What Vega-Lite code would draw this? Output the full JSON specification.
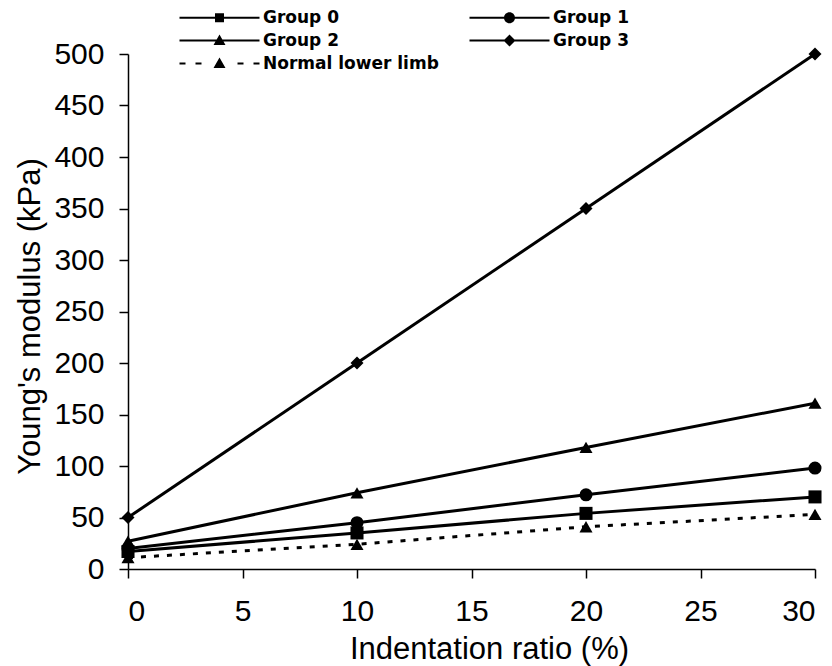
{
  "$schema": "https://vega.github.io/schema/vega-lite/v6.json",
  "width": 687,
  "height": 515,
  "autosize": {"type": "none"},
  "padding": {"left": 128, "top": 54, "right": 17, "bottom": 97},
  "background": "white",
  "config": {
    "view": {"stroke": null},
    "font": "Liberation Sans",
    "axis": {
      "domainColor": "black",
      "domainWidth": 1.5,
      "tickColor": "black",
      "tickWidth": 1.5,
      "tickSize": 9,
      "labelColor": "black",
      "labelFont": "Liberation Sans",
      "labelFontSize": 30,
      "titleColor": "black",
      "titleFont": "Liberation Sans",
      "titleFontSize": 31,
      "titleFontWeight": "normal",
      "grid": false
    }
  },
  "data": {
    "values": [
      {"x": 0, "y": 17, "series": "Group 0"},
      {"x": 10, "y": 35, "series": "Group 0"},
      {"x": 20, "y": 54, "series": "Group 0"},
      {"x": 30, "y": 70, "series": "Group 0"},
      {"x": 0, "y": 20, "series": "Group 1"},
      {"x": 10, "y": 45, "series": "Group 1"},
      {"x": 20, "y": 72, "series": "Group 1"},
      {"x": 30, "y": 98, "series": "Group 1"},
      {"x": 0, "y": 27, "series": "Group 2"},
      {"x": 10, "y": 74, "series": "Group 2"},
      {"x": 20, "y": 118, "series": "Group 2"},
      {"x": 30, "y": 161, "series": "Group 2"},
      {"x": 0, "y": 50, "series": "Group 3"},
      {"x": 10, "y": 200, "series": "Group 3"},
      {"x": 20, "y": 350, "series": "Group 3"},
      {"x": 30, "y": 500, "series": "Group 3"},
      {"x": 0, "y": 11, "series": "Normal lower limb"},
      {"x": 10, "y": 24, "series": "Normal lower limb"},
      {"x": 20, "y": 41, "series": "Normal lower limb"},
      {"x": 30, "y": 53, "series": "Normal lower limb"}
    ]
  },
  "encoding": {
    "x": {
      "field": "x",
      "type": "quantitative",
      "scale": {"domain": [0, 30], "nice": false},
      "axis": {
        "values": [0, 5, 10, 15, 20, 25, 30],
        "title": "Indentation ratio (%)",
        "labelPadding": 18,
        "titleX": 361,
        "titleY": 80,
        "titleAlign": "center",
        "titleBaseline": "middle"
      }
    },
    "y": {
      "field": "y",
      "type": "quantitative",
      "scale": {"domain": [0, 500], "nice": false},
      "axis": {
        "values": [0, 50, 100, 150, 200, 250, 300, 350, 400, 450, 500],
        "title": "Young's modulus (kPa)",
        "labelPadding": 15,
        "titleAngle": -90,
        "titleX": -98,
        "titleY": 262,
        "titleAlign": "center",
        "titleBaseline": "middle"
      }
    }
  },
  "resolve": {"scale": {"shape": "independent"}, "legend": {"shape": "independent"}},
  "layer": [
    {
      "transform": [{"filter": "datum.series !== 'Normal lower limb'"}],
      "mark": {"type": "line", "color": "black", "strokeWidth": 3},
      "encoding": {
        "detail": {"field": "series", "type": "nominal"}
      }
    },
    {
      "transform": [{"filter": "datum.series === 'Normal lower limb'"}],
      "mark": {"type": "line", "color": "black", "strokeWidth": 3, "strokeDash": [5, 8]},
      "encoding": {}
    },
    {
      "mark": {"type": "point", "filled": true, "color": "black", "opacity": 1, "size": 170},
      "encoding": {
        "shape": {
          "field": "series",
          "type": "nominal",
          "scale": {
            "domain": ["Group 0", "Group 1", "Group 2", "Group 3", "Normal lower limb"],
            "range": ["square", "circle", "triangle-up", "diamond", "triangle-up"]
          },
          "legend": null
        }
      }
    },
    {
      "transform": [{"filter": "datum.x < 0"}],
      "mark": {"type": "point", "filled": true, "color": "black", "opacity": 1, "size": 100},
      "encoding": {
        "shape": {
          "field": "series",
          "type": "nominal",
          "scale": {
            "domain": ["Group 0", "Group 1", "Group 2", "Group 3", "Normal lower limb"],
            "range": [
              "M-1,-0.22H15V0.22H-1Z M6.1,-0.9H7.9V0.9H6.1Z",
              "M-1,-0.22H15V0.22H-1Z M8.1,0A1.1,1.1,0,1,1,5.9,0A1.1,1.1,0,1,1,8.1,0Z",
              "M-1,-0.22H15V0.22H-1Z M7,-1.2L8.2,0.9L5.8,0.9Z",
              "M-1,-0.22H15V0.22H-1Z M7,-1.2L8.2,0L7,1.2L5.8,0Z",
              "M-1,-0.22H0.2V0.22H-1Z M2.2,-0.22H3.4V0.22H2.2Z M10.6,-0.22H11.8V0.22H10.6Z M13.8,-0.22H15V0.22H13.8Z M7,-1.2L8.2,0.9L5.8,0.9Z"
            ]
          },
          "legend": {
            "title": null,
            "orient": "none",
            "legendX": 48,
            "legendY": -45,
            "direction": "horizontal",
            "columns": 2,
            "columnPadding": 27,
            "rowPadding": 5,
            "padding": 0,
            "symbolSize": 100,
            "symbolFillColor": "black",
            "symbolStrokeWidth": 0,
            "symbolOpacity": 1,
            "labelOffset": 70,
            "labelLimit": 0,
            "labelFont": "DejaVu Sans",
            "labelFontWeight": "bold",
            "labelFontSize": 17,
            "labelColor": "black"
          }
        }
      }
    }
  ]
}
